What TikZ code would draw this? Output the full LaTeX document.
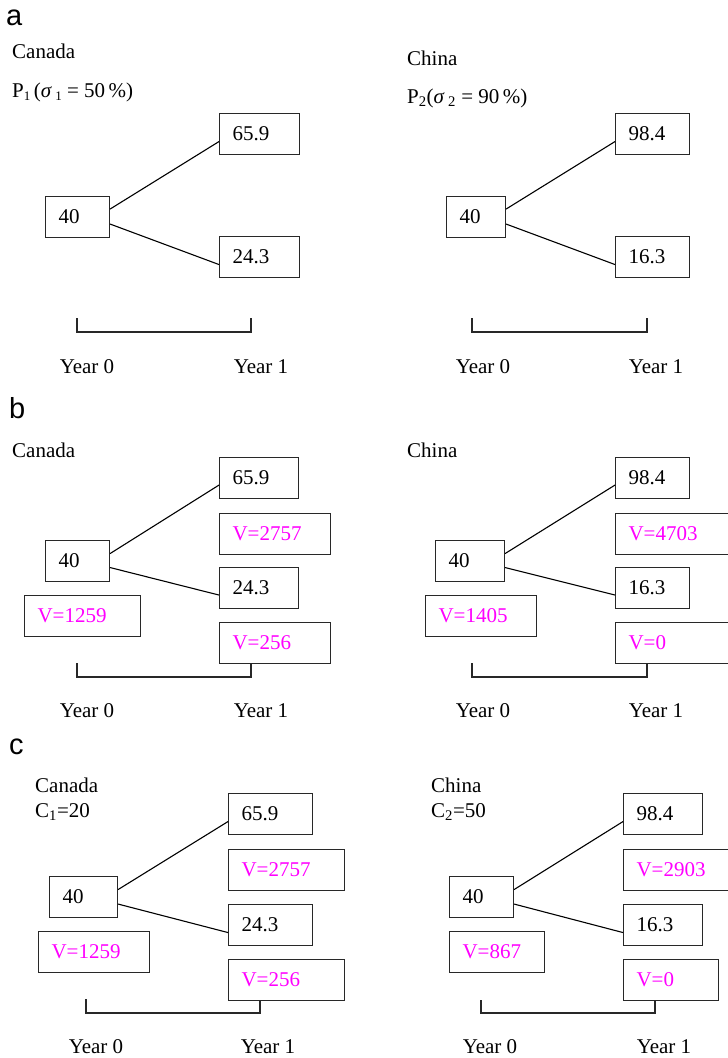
\documentclass[tikz,border=0pt]{standalone}
\usepackage{fontspec}
\setmainfont{Liberation Serif}
\newfontfamily\lblfont{Liberation Sans}
\definecolor{vmag}{RGB}{255,0,255}
\definecolor{bord}{RGB}{40,40,40}
\newcommand{\lowsub}[1]{\raisebox{-0.35ex}{\fontsize{13}{14}\selectfont #1}}
\begin{document}
\begin{tikzpicture}[x=1pt,y=-1pt,
  every node/.style={font=\fontsize{21}{24}\selectfont},
  box/.style={draw=bord, line width=1.1pt, anchor=north west, inner xsep=13pt, inner ysep=0pt,
    align=left, minimum height=41pt},
  val/.style={box, text=vmag},
  txt/.style={anchor=base west, inner sep=0pt},
  yr/.style={anchor=base, inner sep=0pt},
  lbl/.style={anchor=base west, inner sep=0pt, font=\lblfont\fontsize{29}{32}\selectfont},
  link/.style={line width=1.1pt},
  brk/.style={line width=1.1pt, bord}]
\useasboundingbox (0,0) rectangle (728,1058);

% ---------------- panel a ----------------
\node[lbl] (la) at (6,25) {a};
\node[txt] (aCan) at (12,58) {Canada};
\node[txt] (aP1) at (12,97) {P\lowsub{1}\,(\textit{σ}\,\lowsub{1} = 50\,\%)};
\node[box, text width=54pt] (a1u) at (219,113) {65.9};
\node[box, text width=38pt] (a1o) at (45,196) {40};
\node[box, text width=54pt] (a1d) at (219,236) {24.3};
\draw[link] ([yshift=8pt]a1o.east) -- ([yshift=-7.5pt]a1u.west);
\draw[link] ([yshift=-7pt]a1o.east) -- ([yshift=-7.5pt]a1d.west);
\coordinate (a1b0) at (77,318);
\coordinate (a1b1) at (251,318);
\draw[brk] (a1b0) -- (77,332) -- (251,332) -- (a1b1);
\node[yr] (a1y0) at (87,373) {Year 0};
\node[yr] (a1y1) at (261,373) {Year 1};

\node[txt] (aChi) at (407,65) {China};
\node[txt] (aP2) at (407,103) {P\textsubscript{2}(\textit{σ}\,\textsubscript{2} = 90\,\%)};
\node[box, text width=48pt] (a2u) at (615,113) {98.4};
\node[box, text width=33pt] (a2o) at (446,196) {40};
\node[box, text width=48pt] (a2d) at (615,236) {16.3};
\draw[link] ([yshift=8pt]a2o.east) -- ([yshift=-7.5pt]a2u.west);
\draw[link] ([yshift=-7pt]a2o.east) -- ([yshift=-7.5pt]a2d.west);
\coordinate (a2b0) at (472,318);
\coordinate (a2b1) at (647,318);
\draw[brk] (a2b0) -- (472,332) -- (647,332) -- (a2b1);
\node[yr] (a2y0) at (483,373) {Year 0};
\node[yr] (a2y1) at (656,373) {Year 1};

% ---------------- panel b ----------------
\node[lbl] (lb) at (9,418) {b};
\node[txt] (bCan) at (12,457) {Canada};
\node[box, text width=53pt] (b1u) at (219,457) {65.9};
\node[val, text width=85pt] (b1uv) at (219,513) {V=2757};
\node[box, text width=38pt] (b1o) at (45,540) {40};
\node[box, text width=53pt] (b1d) at (219,567) {24.3};
\node[val, text width=90pt] (b1ov) at (24,595) {V=1259};
\node[val, text width=85pt] (b1dv) at (219,622) {V=256};
\draw[link] ([yshift=7.5pt]b1o.east) -- ([yshift=-7pt]b1u.west);
\draw[link] ([yshift=-6.5pt]b1o.east) -- ([yshift=-7pt]b1d.west);
\coordinate (b1b0) at (77,663);
\coordinate (b1b1) at (251,663);
\draw[brk] (b1b0) -- (77,677) -- (251,677) -- (b1b1);
\node[yr] (b1y0) at (87,717) {Year 0};
\node[yr] (b1y1) at (261,717) {Year 1};

\node[txt] (bChi) at (407,457) {China};
\node[box, text width=48pt] (b2u) at (615,457) {98.4};
\node[val, text width=89pt] (b2uv) at (615,513) {V=4703};
\node[box, text width=43pt] (b2o) at (435,540) {40};
\node[box, text width=48pt] (b2d) at (615,567) {16.3};
\node[val, text width=85pt] (b2ov) at (425,595) {V=1405};
\node[val, text width=89pt] (b2dv) at (615,622) {V=0};
\draw[link] ([yshift=7.5pt]b2o.east) -- ([yshift=-7pt]b2u.west);
\draw[link] ([yshift=-6.5pt]b2o.east) -- ([yshift=-7pt]b2d.west);
\coordinate (b2b0) at (472,663);
\coordinate (b2b1) at (647,663);
\draw[brk] (b2b0) -- (472,677) -- (647,677) -- (b2b1);
\node[yr] (b2y0) at (483,717) {Year 0};
\node[yr] (b2y1) at (656,717) {Year 1};

% ---------------- panel c ----------------
\node[lbl] (lc) at (9,754) {c};
\node[txt] (cCan) at (35,792) {Canada};
\node[txt] (cC1) at (35,817) {C\textsubscript{1}=20};
\node[box, text width=58pt] (c1u) at (228,793) {65.9};
\node[val, text width=90pt] (c1uv) at (228,849) {V=2757};
\node[box, text width=42pt] (c1o) at (49,876) {40};
\node[box, text width=58pt] (c1d) at (228,904) {24.3};
\node[val, text width=85pt] (c1ov) at (38,931) {V=1259};
\node[val, text width=90pt] (c1dv) at (228,959) {V=256};
\draw[link] ([yshift=7.5pt]c1o.east) -- ([yshift=-7.5pt]c1u.west);
\draw[link] ([yshift=-7pt]c1o.east) -- ([yshift=-7.5pt]c1d.west);
\coordinate (c1b0) at (86,999);
\coordinate (c1b1) at (260,1000);
\draw[brk] (c1b0) -- (86,1013) -- (260,1013) -- (c1b1);
\node[yr] (c1y0) at (96,1053) {Year 0};
\node[yr] (c1y1) at (268,1053) {Year 1};

\node[txt] (cChi) at (431,792) {China};
\node[txt] (cC2) at (431,817) {C\textsubscript{2}=50};
\node[box, text width=53pt] (c2u) at (623,793) {98.4};
\node[val, text width=89pt] (c2uv) at (623,849) {V=2903};
\node[box, text width=38pt] (c2o) at (449,876) {40};
\node[box, text width=53pt] (c2d) at (623,904) {16.3};
\node[val, text width=69pt] (c2ov) at (449,931) {V=867};
\node[val, text width=69pt] (c2dv) at (623,959) {V=0};
\draw[link] ([yshift=7.5pt]c2o.east) -- ([yshift=-7.5pt]c2u.west);
\draw[link] ([yshift=-7pt]c2o.east) -- ([yshift=-7.5pt]c2d.west);
\coordinate (c2b0) at (481,1000);
\coordinate (c2b1) at (655,1000);
\draw[brk] (c2b0) -- (481,1013) -- (655,1013) -- (c2b1);
\node[yr] (c2y0) at (490,1053) {Year 0};
\node[yr] (c2y1) at (664,1053) {Year 1};
\end{tikzpicture}
\end{document}
